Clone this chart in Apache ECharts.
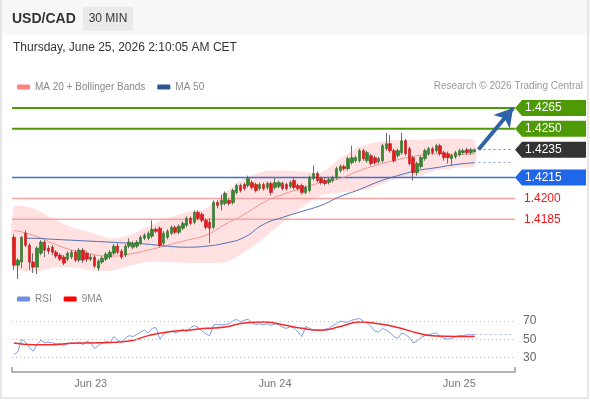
<!DOCTYPE html>
<html>
<head>
<meta charset="utf-8">
<script src="https://cdn.jsdelivr.net/npm/echarts@6/dist/echarts.min.js"></script>
<style>
	html,body{margin:0;padding:0;background:#fff;}
	#chart{width:590px;height:400px;}
</style>
</head>
<body>
<div id="chart"></div>
<script>
var FONT = 'Liberation Sans, Arial, sans-serif';

// 30 min candles, Jun 22 14:00 -> Jun 25 02:00, [open, close, low, high]
var candles = [
	[1.41721,1.41521,1.41486,1.41743],[1.41521,1.41557,1.41421,1.41571],[1.41543,1.41721,1.41500,1.41729],
	[1.41750,1.41664,1.41650,1.41771],[1.41664,1.41543,1.41486,1.41679],[1.41543,1.41507,1.41464,1.41607],
	[1.41507,1.41643,1.41457,1.41657],[1.41607,1.41686,1.41593,1.41700],[1.41686,1.41629,1.41579,1.41700],
	[1.41643,1.41621,1.41600,1.41664],[1.41650,1.41614,1.41593,1.41664],[1.41614,1.41586,1.41571,1.41629],
	[1.41593,1.41564,1.41550,1.41607],[1.41579,1.41536,1.41521,1.41593],[1.41564,1.41607,1.41550,1.41621],
	[1.41579,1.41614,1.41564,1.41629],[1.41614,1.41557,1.41543,1.41629],[1.41557,1.41629,1.41543,1.41643],
	[1.41629,1.41557,1.41536,1.41643],[1.41607,1.41564,1.41543,1.41621],[1.41564,1.41579,1.41550,1.41600],
	[1.41579,1.41514,1.41500,1.41593],[1.41500,1.41550,1.41479,1.41564],[1.41543,1.41571,1.41529,1.41586],
	[1.41564,1.41600,1.41550,1.41614],[1.41579,1.41614,1.41564,1.41629],[1.41607,1.41657,1.41593,1.41671],
	[1.41657,1.41614,1.41600,1.41679],[1.41621,1.41579,1.41564,1.41636],[1.41593,1.41657,1.41579,1.41671],
	[1.41657,1.41686,1.41643,1.41714],[1.41650,1.41679,1.41636,1.41693],[1.41657,1.41686,1.41643,1.41700],
	[1.41679,1.41721,1.41664,1.41736],[1.41714,1.41736,1.41700,1.41750],[1.41714,1.41750,1.41700,1.41764],
	[1.41729,1.41779,1.41714,1.41843],[1.41779,1.41764,1.41750,1.41793],[1.41786,1.41664,1.41650,1.41800],
	[1.41679,1.41750,1.41664,1.41764],[1.41721,1.41764,1.41707,1.41779],[1.41750,1.41793,1.41736,1.41807],
	[1.41793,1.41757,1.41743,1.41807],[1.41757,1.41800,1.41743,1.41814],[1.41786,1.41821,1.41771,1.41836],
	[1.41807,1.41857,1.41793,1.41871],[1.41857,1.41821,1.41807,1.41871],[1.41829,1.41900,1.41814,1.41914],
	[1.41900,1.41857,1.41843,1.41914],[1.41886,1.41843,1.41829,1.41900],[1.41843,1.41793,1.41779,1.41857],
	[1.41829,1.41786,1.41679,1.41857],[1.41793,1.41971,1.41779,1.41986],[1.41971,1.41950,1.41929,1.41986],
	[1.41957,1.41986,1.41914,1.42029],[1.41964,1.42036,1.41950,1.42050],[1.41986,1.41964,1.41950,1.42000],
	[1.41971,1.42057,1.41957,1.42071],[1.42043,1.42093,1.42029,1.42107],[1.42093,1.42057,1.42043,1.42107],
	[1.42100,1.42071,1.42057,1.42114],[1.42093,1.42143,1.42079,1.42164],[1.42114,1.42079,1.42064,1.42129],
	[1.42100,1.42057,1.42043,1.42114],[1.42071,1.42100,1.42057,1.42114],[1.42100,1.42071,1.42057,1.42114],
	[1.42079,1.42107,1.42064,1.42121],[1.42107,1.42043,1.42021,1.42121],[1.42079,1.42114,1.42064,1.42150],
	[1.42086,1.42114,1.42071,1.42129],[1.42107,1.42071,1.42057,1.42121],[1.42100,1.42071,1.42057,1.42114],
	[1.42086,1.42114,1.42071,1.42129],[1.42129,1.42079,1.42064,1.42143],[1.42093,1.42071,1.42057,1.42107],
	[1.42093,1.42043,1.42029,1.42107],[1.42043,1.42079,1.42029,1.42093],[1.42057,1.42150,1.42043,1.42164],
	[1.42143,1.42179,1.42129,1.42236],[1.42179,1.42129,1.42114,1.42193],[1.42143,1.42114,1.42100,1.42157],
	[1.42129,1.42107,1.42093,1.42143],[1.42114,1.42136,1.42100,1.42150],[1.42129,1.42150,1.42114,1.42164],
	[1.42150,1.42214,1.42136,1.42229],[1.42200,1.42229,1.42186,1.42243],[1.42229,1.42214,1.42200,1.42243],
	[1.42214,1.42286,1.42200,1.42300],[1.42257,1.42293,1.42243,1.42379],[1.42271,1.42293,1.42257,1.42307],
	[1.42271,1.42343,1.42257,1.42357],[1.42343,1.42286,1.42271,1.42357],[1.42271,1.42329,1.42257,1.42343],
	[1.42307,1.42250,1.42236,1.42321],[1.42293,1.42257,1.42243,1.42307],[1.42264,1.42286,1.42250,1.42300],
	[1.42271,1.42379,1.42257,1.42393],[1.42357,1.42393,1.42343,1.42471],[1.42393,1.42343,1.42329,1.42457],
	[1.42343,1.42271,1.42257,1.42357],[1.42307,1.42343,1.42293,1.42357],[1.42329,1.42414,1.42314,1.42471],
	[1.42414,1.42321,1.42307,1.42429],[1.42357,1.42250,1.42236,1.42371],[1.42293,1.42186,1.42129,1.42307],
	[1.42186,1.42250,1.42164,1.42264],[1.42229,1.42293,1.42214,1.42307],[1.42286,1.42343,1.42271,1.42357],
	[1.42321,1.42357,1.42307,1.42371],[1.42357,1.42329,1.42314,1.42371],[1.42343,1.42379,1.42329,1.42393],
	[1.42379,1.42321,1.42307,1.42393],[1.42329,1.42293,1.42271,1.42343],[1.42321,1.42293,1.42250,1.42336],
	[1.42286,1.42307,1.42236,1.42321],[1.42300,1.42329,1.42286,1.42343],[1.42314,1.42343,1.42300,1.42357],
	[1.42329,1.42343,1.42314,1.42357],[1.42350,1.42329,1.42314,1.42364],[1.42329,1.42350,1.42314,1.42364],
	[1.42336,1.42350,1.42329,1.42357]
];

// indicator lines, read every 5 candles
var lineIdx = [0,5,10,15,20,25,30,35,40,45,50,55,60,65,70,75,80,85,90,95,100,105,110,115,120];
var ma20 = [1.41771,1.41736,1.41679,1.41629,1.41600,1.41586,1.41600,1.41629,1.41664,1.41700,1.41736,1.41814,1.41886,
	1.41971,1.42029,1.42071,1.42114,1.42143,1.42200,1.42243,1.42279,1.42307,1.42321,1.42314,1.42321];
var bbUpper = [1.41936,1.41929,1.41857,1.41793,1.41757,1.41714,1.41736,1.41800,1.41857,1.41900,1.41929,1.42043,1.42143,
	1.42193,1.42200,1.42193,1.42186,1.42286,1.42371,1.42407,1.42421,1.42421,1.42429,1.42429,1.42414];
var bbLower = [1.41514,1.41471,1.41500,1.41507,1.41486,1.41479,1.41514,1.41543,1.41543,1.41536,1.41536,1.41543,1.41614,
	1.41714,1.41829,1.41936,1.42021,1.42043,1.42057,1.42093,1.42143,1.42157,1.42200,1.42221,1.42236];
var ma50Idx = [3,5,10,15,20,25,30,35,40,45,50,55,60,65,70,75,80,85,90,95,100,105,110,115,120];
var ma50 = [1.41714,1.41714,1.41707,1.41700,1.41693,1.41686,1.41679,1.41671,1.41657,1.41650,1.41657,1.41679,1.41721,
	1.41814,1.41864,1.41907,1.41950,1.42014,1.42064,1.42121,1.42164,1.42200,1.42221,1.42243,1.42257];

// RSI per candle + its 9MA
var rsi = [33,36,50,47,41,37,44,49,46,47,
	46,45,45,43,45,46,45,47,44,48,
	46,40,43,46,48,46,53,49,47,51,
	54,53,55,58,60,57,62,63,50,56,
	58,59,57,59,61,58,63,65,63,59,
	56,54,66,66,66,66,67,70,72,69,
	71,72,68,66,67,66,67,65,67,66,
	63,62,64,62,58,53,64,62,60,60,
	60,61,62,65,67,70,69,69,71,72,
	73,70,68,64,59,58,62,60,57,53,
	51,57,55,52,46,48,52,54,55,56,
	57,53,51,50,51,53,54,54,55,55,
	55];
var rsiMa = [46,44,44,45.5,46,46.5,48,54,58,60,62,63.5,68,69,66,62,60,64,69,67,63,57,53.5,53,53];
var rsiLevels = [30,50,70];

// key levels
var levelValues = [1.4265,1.4250,1.4235,1.4215,1.4200,1.4185];
var levelKinds = ['green','green','dark','blue','red','red'];
var targetPrice = 1.4265;

// x axis: half hour slots (10 empty slots on the right)
var startTime = Date.UTC(2026,5,22,14,0);
var slotCount = 131;
var tickSlots = ['06-23 00:00','06-24 00:00','06-25 00:00'];
var tickLabels = ['Jun 23','Jun 24','Jun 25'];

function pad(n){ return n<10?'0'+n:''+n; }
var cats = [];
for(var s=0;s<slotCount;s++){
	var d = new Date(startTime + s*1800000);
	cats.push(pad(d.getUTCMonth()+1)+'-'+pad(d.getUTCDate())+' '+pad(d.getUTCHours())+':'+pad(d.getUTCMinutes()));
}
var last = candles.length-1;
var endSlot = slotCount-1;

var levelColor = {green:'#4e9a06',dark:'#333333',blue:'#1f66e8',red:'#f01818'};
var levelLine = {
	green:{stroke:'#4e9a06',lineWidth:2},
	blue:{stroke:'#3d6fd6',lineWidth:1.5},
	red:{stroke:'#f7a3a3',lineWidth:1.5}
};

function pairs(idx, vals){
	return idx.map(function(x,k){ return [x, vals[k]]; });
}

// bollinger fill
function renderBand(params, api){
	var pts = [];
	for(var k=0;k<lineIdx.length;k++){ pts.push(api.coord([lineIdx[k], bbUpper[k]])); }
	for(var j=lineIdx.length-1;j>=0;j--){ pts.push(api.coord([lineIdx[j], bbLower[j]])); }
	return {type:'polygon', shape:{points:pts, smooth:0.25}, style:{fill:'#ffe1e1'}};
}

// horizontal level lines across the plot
function renderLevel(params, api){
	var k = params.dataIndex;
	var kind = levelKinds[k];
	if(kind == 'dark') return null;
	var y = api.coord([0, api.value(1)])[1];
	var cs = params.coordSys;
	return {type:'line', shape:{x1:cs.x, y1:y, x2:cs.x+cs.width, y2:y}, style:levelLine[kind]};
}

// price tags right of the plot
function renderTag(params, api){
	var k = params.dataIndex;
	var y = api.coord([0, api.value(1)])[1];
	var x0 = params.coordSys.x + params.coordSys.width;
	var kind = levelKinds[k];
	var txt = levelValues[k].toFixed(4);
	if(kind == 'red'){
		return {type:'text', style:{text:txt, x:x0+9, y:y, fill:levelColor.red, fontSize:12, fontFamily:FONT, verticalAlign:'middle'}};
	}
	return {type:'group', children:[
		{type:'polygon', shape:{points:[[x0,y],[x0+7,y-8],[x0+71,y-8],[x0+71,y+8],[x0+7,y+8]]}, style:{fill:levelColor[kind]}},
		{type:'text', style:{text:txt, x:x0+10, y:y, fill:'#fff', fontSize:12, fontFamily:FONT, verticalAlign:'middle'}}
	]};
}

var lastClose = candles[last][1];
var extLines = [[
	{coord:[cats[last+1], levelValues[2]], lineStyle:{color:'#888',width:1,type:[2,3]}},
	{coord:[cats[endSlot], levelValues[2]], lineStyle:{color:'#888',width:1,type:[2,3]}}
],[
	{coord:[cats[last+1], ma50[ma50.length-1]], lineStyle:{color:'#8aa4dc',width:1,type:[2,3]}},
	{coord:[cats[endSlot], ma50[ma50.length-1]], lineStyle:{color:'#8aa4dc',width:1,type:[2,3]}}
]];

var bodies = candles.map(function(c){
	return [c[0], c[1], Math.min(c[0],c[1]), Math.max(c[0],c[1])];
});
var levelData = levelValues.map(function(v){ return [0, v]; });

var myChart = echarts.init(document.getElementById('chart'));
var option = {
	animation: false,
	textStyle: {fontFamily: FONT},
	graphic: {elements: [
		{type:'rect', shape:{x:0,y:0,width:590,height:35}, style:{fill:'#f7f7f7'}, z:-10, silent:true},
		{type:'rect', shape:{x:1,y:-2,width:587,height:400}, style:{fill:'none',stroke:'#e6e6e6',lineWidth:2}, z:-9, silent:true},
		{type:'text', x:12, y:19, style:{text:'USD/CAD', fill:'#333', font:'bold 14px '+FONT, verticalAlign:'middle'}},
		{type:'rect', shape:{x:83,y:7,width:50,height:24}, style:{fill:'#eaeaea'}},
		{type:'text', x:108, y:19, style:{text:'30 MIN', fill:'#333', font:'12px '+FONT, align:'center', verticalAlign:'middle'}},
		{type:'text', x:13, y:48, style:{text:'Thursday, June 25, 2026 2:10:05 AM CET', fill:'#333', font:'12px '+FONT, verticalAlign:'middle'}},
		{type:'text', x:583, y:86, style:{text:'Research \u00a9 2026 Trading Central', fill:'#9a9a9a', font:'10px '+FONT, align:'right', verticalAlign:'middle'}}
	]},
	legend: [{
		data: ['MA 20 + Bollinger Bands','MA 50'],
		left: 12, top: 77, icon: 'roundRect', itemWidth: 13, itemHeight: 5, itemGap: 12,
		selectedMode: false, textStyle: {color:'#888', fontSize:10}
	},{
		data: ['RSI','9MA'],
		left: 12, top: 289, icon: 'roundRect', itemWidth: 13, itemHeight: 5, itemGap: 12,
		selectedMode: false, textStyle: {color:'#888', fontSize:10}
	}],
	grid: [
		{left:12, top:94, height:188, width:503},
		{left:12, top:312, height:60, width:503}
	],
	xAxis: [{
		type:'category', gridIndex:0, data:cats,
		axisLine:{show:false}, axisTick:{show:false}, axisLabel:{show:false}, splitLine:{show:false}
	},{
		type:'category', gridIndex:1, data:cats, position:'bottom',
		axisLine:{show:false}, axisTick:{show:false}, splitLine:{show:false},
		axisLabel:{
			color:'#777', fontSize:11, margin:6,
			interval:function(idx, val){ return tickSlots.indexOf(val) >= 0; },
			formatter:function(val){ var t = tickSlots.indexOf(val); return t>=0 ? tickLabels[t] : ''; }
		}
	},{
		type:'value', gridIndex:1, min:0, max:1, interval:1, position:'bottom',
		axisLine:{show:true, lineStyle:{color:'#b3b3b3', width:2}},
		axisTick:{show:true, inside:true, length:5, lineStyle:{color:'#b3b3b3', width:2}},
		axisLabel:{show:false}, splitLine:{show:false}
	}],
	yAxis: [
		{type:'value', gridIndex:0, min:1.4140, max:1.4275, show:false, splitLine:{show:false}},
		{type:'value', gridIndex:1, min:14, max:80, show:false, splitLine:{show:false}}
	],
	series: [{
		type:'custom', name:'band', xAxisIndex:0, yAxisIndex:0,
		renderItem: renderBand, data:[[0, bbUpper[0]]], silent:true, z:1
	},{
		type:'custom', name:'levels', xAxisIndex:0, yAxisIndex:0,
		renderItem: renderLevel, data: levelData, silent:true, z:2
	},{
		name:'MA 20 + Bollinger Bands', type:'line', xAxisIndex:0, yAxisIndex:0,
		data: pairs(lineIdx, ma20), smooth:true, showSymbol:false, silent:true,
		lineStyle:{color:'#f59393', width:1}, itemStyle:{color:'#ff8080'}, z:2
	},{
		name:'MA 50', type:'line', xAxisIndex:0, yAxisIndex:0,
		data: pairs(ma50Idx, ma50), smooth:true, showSymbol:false, silent:true,
		lineStyle:{color:'#4d6fb3', width:1}, itemStyle:{color:'#2f5597'}, z:2,
		markLine:{silent:true, symbol:'none', label:{show:false}, data:extLines}
	},{
		type:'candlestick', name:'wick', xAxisIndex:0, yAxisIndex:0, data:candles,
		barWidth:1, silent:true, z:3,
		itemStyle:{color:'#6e6e6e', color0:'#6e6e6e', borderColor:'#6e6e6e', borderColor0:'#6e6e6e', borderWidth:1}
	},{
		type:'candlestick', name:'body', xAxisIndex:0, yAxisIndex:0, data:bodies,
		barWidth:3, silent:true, z:4,
		itemStyle:{color:'#338a2e', color0:'#e21b1b', borderColor:'#2a6f26', borderColor0:'#c41414', borderWidth:0.6},
		markLine:{silent:true, label:{show:false}, symbol:'none', data:[[
			{coord:[cats[last+1], lastClose+0.00002], symbol:'none', lineStyle:{color:'#2f62a6', width:4, type:'solid'}},
			{coord:[cats[endSlot], targetPrice], symbol:'arrow', symbolSize:[16,18], itemStyle:{color:'#2f62a6'}, lineStyle:{color:'#2f62a6', width:4, type:'solid'}}
		]]}
	},{
		type:'custom', name:'tags', xAxisIndex:0, yAxisIndex:0,
		renderItem: renderTag, data: levelData, clip:false, silent:true, z:10
	},{
		name:'RSI', type:'line', xAxisIndex:1, yAxisIndex:1, data:rsi,
		showSymbol:false, silent:true, lineStyle:{color:'#7e9ce8', width:1}, itemStyle:{color:'#6f8fe0'}, z:3,
		markLine:{silent:true, symbol:'none',
			label:{show:true, position:'end', formatter:'{c}', color:'#666', fontSize:12, distance:8},
			lineStyle:{color:'#bdbdbd', width:1, type:[1,3]},
			data: rsiLevels.map(function(v){ return {yAxis:v}; }).concat([[
				{coord:[cats[last], rsi[last]], label:{show:false}, lineStyle:{color:'#a9bdf0', width:1, type:[2,3]}},
				{coord:[cats[endSlot], rsi[last]], label:{show:false}, lineStyle:{color:'#a9bdf0', width:1, type:[2,3]}}
			]])
		}
	},{
		name:'9MA', type:'line', xAxisIndex:1, yAxisIndex:1, data: pairs(lineIdx, rsiMa),
		smooth:true, showSymbol:false, silent:true, lineStyle:{color:'#f52a2a', width:1.5}, itemStyle:{color:'#ff0000'}, z:4
	}]
};
myChart.setOption(option);
</script>
</body>
</html>
